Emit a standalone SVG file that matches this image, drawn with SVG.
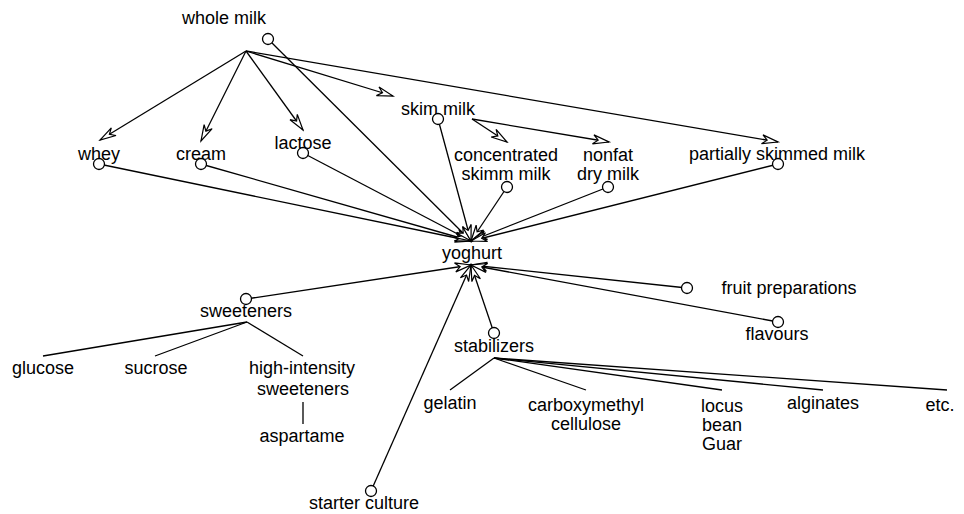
<svg xmlns="http://www.w3.org/2000/svg" width="964" height="514" viewBox="0 0 964 514">
<style>
text{font-family:"Liberation Sans",Arial,sans-serif;font-size:18px;fill:#000;text-anchor:middle}
.c{fill:#fff;stroke:#000;stroke-width:1.3}
.l{fill:none;stroke:#000;stroke-width:1.3}
.a{fill:none;stroke:#000;stroke-width:1.3;marker-end:url(#ah)}
</style>
<defs>
<marker id="ah" viewBox="-18 -6 20 12" markerWidth="20" markerHeight="12" refX="0" refY="0" orient="auto" markerUnits="userSpaceOnUse">
<path d="M-16,-4.5 L0,0 L-16,4.5 L-11,0 Z" fill="#fff" stroke="#000" stroke-width="1.2"/>
</marker>
</defs>
<rect width="964" height="514" fill="#fff"/>
<g id="connectors">
<line class="a" x1="246" y1="51" x2="100" y2="140"/>
<line class="a" x1="246" y1="51" x2="201" y2="141"/>
<line class="a" x1="246" y1="51" x2="303" y2="130"/>
<line class="a" x1="246" y1="51" x2="393" y2="96"/>
<line class="a" x1="246" y1="51" x2="778" y2="142"/>
<line class="a" x1="472" y1="119" x2="507" y2="142"/>
<line class="a" x1="472" y1="119" x2="609" y2="142"/>
<line class="a" x1="99" y1="164" x2="471" y2="241"/>
<line class="a" x1="201" y1="164" x2="471" y2="241"/>
<line class="a" x1="303" y1="153" x2="471" y2="241"/>
<line class="a" x1="268" y1="39" x2="471" y2="241"/>
<line class="a" x1="438" y1="119" x2="471" y2="241"/>
<line class="a" x1="507" y1="187" x2="471" y2="241"/>
<line class="a" x1="608" y1="187" x2="471" y2="241"/>
<line class="a" x1="778" y1="164" x2="471" y2="241"/>
<line class="a" x1="246" y1="299" x2="471" y2="265"/>
<line class="a" x1="687" y1="288" x2="471" y2="265"/>
<line class="a" x1="778" y1="322" x2="471" y2="265"/>
<line class="a" x1="494" y1="333" x2="471" y2="265"/>
<line class="a" x1="371" y1="491" x2="471" y2="265"/>
<line class="l" x1="247" y1="322" x2="43" y2="356"/>
<line class="l" x1="247" y1="322" x2="155" y2="356"/>
<line class="l" x1="247" y1="322" x2="303" y2="356"/>
<line class="l" x1="303" y1="402" x2="303" y2="424"/>
<line class="l" x1="494" y1="358" x2="450" y2="390"/>
<line class="l" x1="494" y1="358" x2="586" y2="390"/>
<line class="l" x1="494" y1="358" x2="722" y2="390"/>
<line class="l" x1="494" y1="358" x2="823" y2="390"/>
<line class="l" x1="494" y1="358" x2="947" y2="390"/>
</g>
<g id="whole-milk"><text x="224" y="24">whole milk</text><circle class="c" cx="268" cy="39" r="5.5"/></g>
<g id="whey"><text x="99" y="160">whey</text><circle class="c" cx="99" cy="164" r="5.5"/></g>
<g id="cream"><text x="201" y="160">cream</text><circle class="c" cx="201" cy="164" r="5.5"/></g>
<g id="lactose"><text x="303" y="149">lactose</text><circle class="c" cx="303" cy="153" r="5.5"/></g>
<g id="skim-milk"><text x="438" y="115">skim milk</text><circle class="c" cx="438" cy="119" r="5.5"/></g>
<g id="concentrated"><text x="506" y="161">concentrated</text><text x="506" y="180">skimm milk</text><circle class="c" cx="507" cy="187" r="5.5"/></g>
<g id="nonfat"><text x="608" y="161">nonfat</text><text x="608" y="180">dry milk</text><circle class="c" cx="608" cy="187" r="5.5"/></g>
<g id="partially"><text x="777" y="160">partially skimmed milk</text><circle class="c" cx="778" cy="164" r="5.5"/></g>
<g id="yoghurt"><text x="472" y="259">yoghurt</text></g>
<g id="fruit"><circle class="c" cx="687" cy="288" r="5.5"/><text x="789" y="294">fruit preparations</text></g>
<g id="flavours"><circle class="c" cx="778" cy="322" r="5.5"/><text x="777" y="340">flavours</text></g>
<g id="sweeteners"><circle class="c" cx="246" cy="299" r="5.5"/><text x="246" y="317">sweeteners</text></g>
<g id="glucose"><text x="43" y="374">glucose</text></g>
<g id="sucrose"><text x="156" y="374">sucrose</text></g>
<g id="high-intensity"><text x="302" y="374">high-intensity</text><text x="303" y="395">sweeteners</text></g>
<g id="aspartame"><text x="302" y="442">aspartame</text></g>
<g id="stabilizers"><circle class="c" cx="494" cy="333" r="5.5"/><text x="494" y="352">stabilizers</text></g>
<g id="gelatin"><text x="450" y="409">gelatin</text></g>
<g id="carboxymethyl"><text x="586" y="411">carboxymethyl</text><text x="586" y="430">cellulose</text></g>
<g id="locus"><text x="722" y="412">locus</text><text x="722" y="431">bean</text><text x="722" y="450">Guar</text></g>
<g id="alginates"><text x="823" y="409">alginates</text></g>
<g id="etc"><text x="940" y="411">etc.</text></g>
<g id="starter"><circle class="c" cx="371" cy="491" r="5.5"/><text x="364" y="509">starter culture</text></g>
</svg>
